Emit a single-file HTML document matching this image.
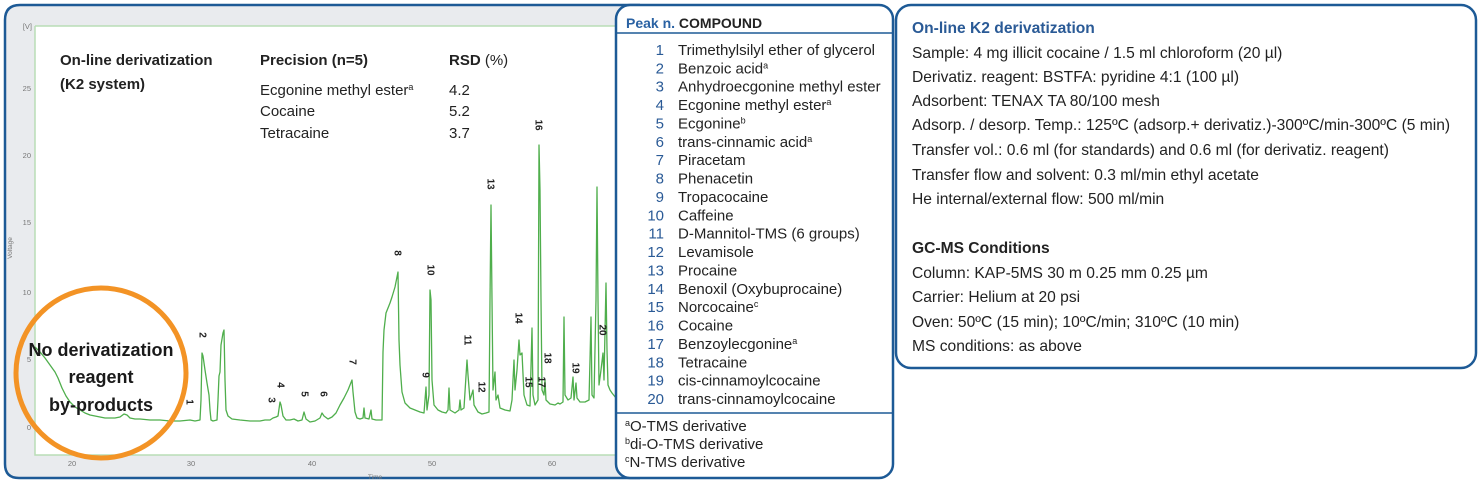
<!DOCTYPE html>
<html><head><meta charset="utf-8"><style>
html,body{margin:0;padding:0;background:#fff;}
svg{display:block;}
text{font-family:"Liberation Sans",sans-serif;}
</style></head><body>
<svg width="1479" height="485" viewBox="0 0 1479 485" xmlns="http://www.w3.org/2000/svg">
<!-- chart panel -->
<path d="M640,5 L20,5 Q5,5 5,20 L5,464 Q5,478 19,478 L640,478" fill="#e9ebee" stroke="#1d5a96" stroke-width="2.5"/>
<rect x="35" y="26" width="600" height="429" fill="#fff"/>
<path d="M35,26 L640,26 M35,26 L35,455 L640,455" fill="none" stroke="#b9ddb5" stroke-width="1.5"/>
<!-- y ticks -->
<g font-size="7.5" fill="#777" text-anchor="end">
<text x="32" y="29">[V]</text>
<text x="31" y="91">25</text>
<text x="31" y="158">20</text>
<text x="31" y="225">15</text>
<text x="31" y="295">10</text>
<text x="31" y="362">5</text>
<text x="31" y="430">0</text>
</g>
<text transform="translate(12,248) rotate(-90)" font-size="6.5" fill="#777" text-anchor="middle">Voltage</text>
<g font-size="7.5" fill="#777" text-anchor="middle">
<text x="72" y="466">20</text>
<text x="191" y="466">30</text>
<text x="312" y="466">40</text>
<text x="432" y="466">50</text>
<text x="552" y="466">60</text>
<text x="375" y="479" font-size="6.5">Time</text>
</g>
<!-- chromatogram -->
<polyline fill="none" stroke="#4fae4c" stroke-width="1.3" stroke-linejoin="round" points="35,347 40,352 45,358 50,365 55,372 58,378 62,388 66,396 70,402 75,407 80,410 85,413 90,415 95,416 100,417 105,418 110,418 115,418 120,417 124,414 127,415 130,418 135,419 140,419 150,420 160,420 170,421 180,421 190,420 195,421 200,420 201,400 202,353 203,356 205,370 207,383 209,395 210,410 211,420 213,421 217,420 218,400 219,376 220,372 221,345 223,333 224,330 225,380 226,410 228,416 232,419 240,420 250,421 260,421 265,420 270,420 273,418 276,417 278,416 280,402 281,405 283,416 286,420 290,420 294,419 298,421 302,420 304,412 306,419 310,422 315,421 320,418 322,413 324,416 328,419 332,417 336,413 340,405 344,398 348,390 350,385 352,380 353,392 355,412 357,418 360,419 363,418 364,408 365,418 369,419 371,410 372,419 376,420 382,420 383,352 384,330 386,313 388,308 390,303 392,297 395,287 396,282 398,272 399,340 400,365 402,392 405,403 410,408 415,410 420,412 424,413 425,400 426,387 427,410 429,395 430,290 431,300 432,380 434,405 438,410 442,412 446,413 448,410 449,388 450,410 455,413 459,410 460,400 461,410 464,408 467,360 468,375 470,400 473,390 474,405 478,412 482,414 486,413 489,412 490,300 491,205 492,300 493,390 495,372 496,400 498,395 500,408 505,410 510,411 512,400 514,360 515,390 517,370 519,340 520,355 522,353 524,395 527,405 530,406 532,328 533,395 535,405 538,400 539,145 540,190 541,300 542,390 544,395 545,380 546,400 550,404 555,405 558,403 560,404 563,402 564,317 565,395 568,400 571,398 573,377 574,400 576,383 577,398 580,402 585,402 589,400 590,360 591,317 592,395 594,398 596,300 597,187 598,300 599,385 601,370 603,353 604,380 606,283 607,350 608,385 610,390 612,393 616,398"/>
<!-- peak labels -->
<g font-size="10" font-weight="bold" fill="#222" text-anchor="middle">
<text transform="translate(190,402) rotate(90)" dy="3.5">1</text>
<text transform="translate(203,335) rotate(90)" dy="3.5">2</text>
<text transform="translate(272,400) rotate(90)" dy="3.5">3</text>
<text transform="translate(281,385) rotate(90)" dy="3.5">4</text>
<text transform="translate(305,394) rotate(90)" dy="3.5">5</text>
<text transform="translate(324,394) rotate(90)" dy="3.5">6</text>
<text transform="translate(353,362) rotate(90)" dy="3.5">7</text>
<text transform="translate(398,253) rotate(90)" dy="3.5">8</text>
<text transform="translate(426,375) rotate(90)" dy="3.5">9</text>
<text transform="translate(431,270) rotate(90)" dy="3.5">10</text>
<text transform="translate(468,340) rotate(90)" dy="3.5">11</text>
<text transform="translate(482,387) rotate(90)" dy="3.5">12</text>
<text transform="translate(491,184) rotate(90)" dy="3.5">13</text>
<text transform="translate(519,318) rotate(90)" dy="3.5">14</text>
<text transform="translate(529,382) rotate(90)" dy="3.5">15</text>
<text transform="translate(539,125) rotate(90)" dy="3.5">16</text>
<text transform="translate(542,382) rotate(90)" dy="3.5">17</text>
<text transform="translate(548,358) rotate(90)" dy="3.5">18</text>
<text transform="translate(576,368) rotate(90)" dy="3.5">19</text>
<text transform="translate(603,330) rotate(90)" dy="3.5">20</text>
</g>
<!-- overlay text -->
<g font-size="15" fill="#222">
<text x="60" y="65" font-weight="bold">On-line derivatization</text>
<text x="60" y="89" font-weight="bold">(K2 system)</text>
<text x="260" y="65" font-weight="bold">Precision (n=5)</text>
<text x="449" y="65"><tspan font-weight="bold">RSD</tspan> (%)</text>
<text x="260" y="95">Ecgonine methyl ester<tspan font-size="9" dy="-5">a</tspan></text>
<text x="260" y="116">Cocaine</text>
<text x="260" y="138">Tetracaine</text>
<text x="449" y="95">4.2</text>
<text x="449" y="116">5.2</text>
<text x="449" y="138">3.7</text>
</g>
<!-- orange circle -->
<circle cx="101" cy="373" r="85" fill="none" stroke="#f39325" stroke-width="5"/>
<g font-size="18" font-weight="bold" fill="#1a1a1a" text-anchor="middle">
<text x="101" y="356">No derivatization</text>
<text x="101" y="383">reagent</text>
<text x="101" y="411">by-products</text>
</g>
<!-- table box -->
<rect x="616" y="5" width="277" height="473" rx="14" ry="14" fill="#fff" stroke="#1d5a96" stroke-width="2.5"/>
<line x1="617" y1="33" x2="892" y2="33" stroke="#1d5a96" stroke-width="1.5"/>
<line x1="617" y1="413" x2="892" y2="413" stroke="#1d5a96" stroke-width="1.5"/>
<text x="626" y="28" font-size="14" font-weight="bold"><tspan fill="#2a62a3">Peak n.</tspan><tspan fill="#222"> COMPOUND</tspan></text>
<g font-size="15" fill="#2a5a96" text-anchor="end">
<text x="664" y="55">1</text><text x="664" y="73.4">2</text><text x="664" y="91.7">3</text><text x="664" y="110.1">4</text><text x="664" y="128.5">5</text>
<text x="664" y="146.8">6</text><text x="664" y="165.2">7</text><text x="664" y="183.6">8</text><text x="664" y="202">9</text><text x="664" y="220.3">10</text>
<text x="664" y="238.7">11</text><text x="664" y="257.1">12</text><text x="664" y="275.4">13</text><text x="664" y="293.8">14</text><text x="664" y="312.2">15</text>
<text x="664" y="330.6">16</text><text x="664" y="348.9">17</text><text x="664" y="367.3">18</text><text x="664" y="385.7">19</text><text x="664" y="404">20</text>
</g>
<g font-size="15" fill="#222">
<text x="678" y="55">Trimethylsilyl ether of glycerol</text>
<text x="678" y="73.4">Benzoic acid<tspan font-size="9" dy="-5">a</tspan></text>
<text x="678" y="91.7">Anhydroecgonine methyl ester</text>
<text x="678" y="110.1">Ecgonine methyl ester<tspan font-size="9" dy="-5">a</tspan></text>
<text x="678" y="128.5">Ecgonine<tspan font-size="9" dy="-5">b</tspan></text>
<text x="678" y="146.8">trans-cinnamic acid<tspan font-size="9" dy="-5">a</tspan></text>
<text x="678" y="165.2">Piracetam</text>
<text x="678" y="183.6">Phenacetin</text>
<text x="678" y="202">Tropacocaine</text>
<text x="678" y="220.3">Caffeine</text>
<text x="678" y="238.7">D-Mannitol-TMS (6 groups)</text>
<text x="678" y="257.1">Levamisole</text>
<text x="678" y="275.4">Procaine</text>
<text x="678" y="293.8">Benoxil (Oxybuprocaine)</text>
<text x="678" y="312.2">Norcocaine<tspan font-size="9" dy="-5">c</tspan></text>
<text x="678" y="330.6">Cocaine</text>
<text x="678" y="348.9">Benzoylecgonine<tspan font-size="9" dy="-5">a</tspan></text>
<text x="678" y="367.3">Tetracaine</text>
<text x="678" y="385.7">cis-cinnamoylcocaine</text>
<text x="678" y="404">trans-cinnamoylcocaine</text>
<text x="625" y="431"><tspan font-size="9" dy="-5">a</tspan><tspan dy="5">O-TMS derivative</tspan></text>
<text x="625" y="449"><tspan font-size="9" dy="-5">b</tspan><tspan dy="5">di-O-TMS derivative</tspan></text>
<text x="625" y="467"><tspan font-size="9" dy="-5">c</tspan><tspan dy="5">N-TMS derivative</tspan></text>
</g>
<!-- right box -->
<rect x="896" y="5" width="580" height="363" rx="15" ry="15" fill="#fff" stroke="#1d5a96" stroke-width="2.5"/>
<text x="912" y="33" font-size="15.6" font-weight="bold" fill="#2a5a96">On-line K2 derivatization</text>
<g font-size="15.6" fill="#222">
<text x="912" y="58">Sample: 4 mg illicit cocaine / 1.5 ml chloroform (20 µl)</text>
<text x="912" y="82">Derivatiz. reagent: BSTFA: pyridine 4:1 (100 µl)</text>
<text x="912" y="106">Adsorbent: TENAX TA 80/100 mesh</text>
<text x="912" y="130">Adsorp. / desorp. Temp.: 125ºC (adsorp.+ derivatiz.)-300ºC/min-300ºC (5 min)</text>
<text x="912" y="155">Transfer vol.: 0.6 ml (for standards) and 0.6 ml (for derivatiz. reagent)</text>
<text x="912" y="180">Transfer flow and solvent: 0.3 ml/min ethyl acetate</text>
<text x="912" y="204">He internal/external flow: 500 ml/min</text>
<text x="912" y="253" font-weight="bold">GC-MS Conditions</text>
<text x="912" y="278">Column: KAP-5MS 30 m 0.25 mm 0.25 µm</text>
<text x="912" y="302">Carrier: Helium at 20 psi</text>
<text x="912" y="327">Oven: 50ºC (15 min); 10ºC/min; 310ºC (10 min)</text>
<text x="912" y="351">MS conditions: as above</text>
</g>
</svg>
</body></html>
